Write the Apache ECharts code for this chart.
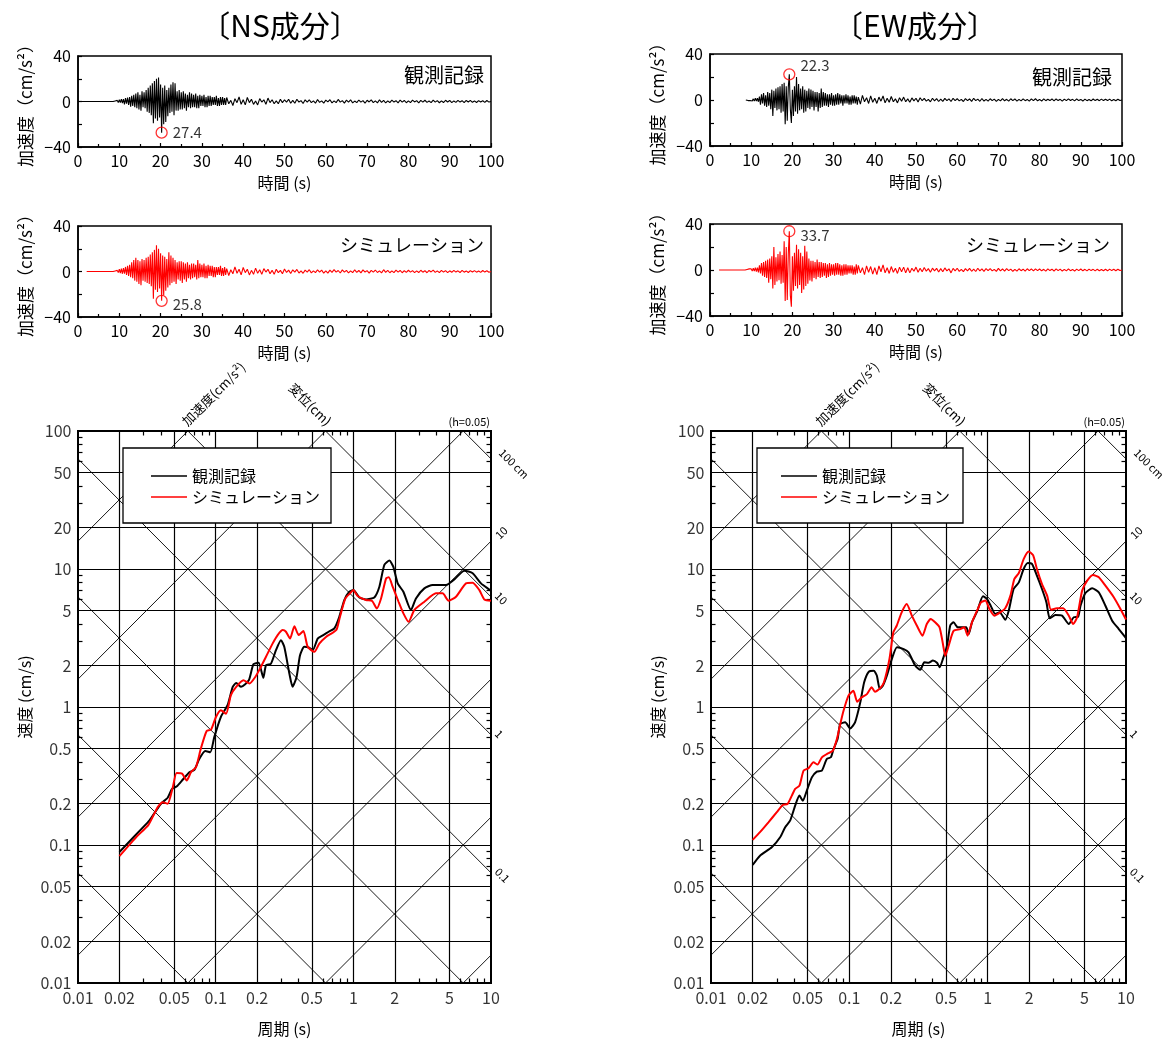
<!DOCTYPE html>
<html><head><meta charset="utf-8">
<script src="https://cdn.jsdelivr.net/npm/echarts@6/dist/echarts.min.js"></script>
<style>html,body{margin:0;padding:0;background:#fff}#c{width:1167px;height:1040px}</style>
</head><body><div id="c"></div>
<script>
const FONT = '"Noto Sans CJK JP", "Noto Sans", sans-serif';

// ---------- Time histories (acceleration, cm/s^2) ----------
const denseStart = 8, denseStep = 0.25;   // dense samples 8.0 .. 35.75 s
const tailStart = 36, tailStep = 0.5;     // tail samples 36 .. 100 s
const traceStarts = [0, 2.1, 8.7, 2.2];   // NS obs, NS sim, EW obs, EW sim

const nsObsDense = [
 0,0,0,0, 0.5,-0.5,1,-1, 1.5,-1,2,-1.5, 2,-2.5,3,-2, 3.5,-3,4,-4.5, 5,-4,6,-5,
 7,-6,8,-7, 6,-8,9,-5, 8,-6,10,-9, 12,-10,14,-12, 16,-19,18,-15, 20,-17,21,-14,
 15,-27.4,12,-20, 14,-18,10,-13, 12,-10,15,-9, 17,-12,16,-8, 9,-8,10,-7, 8,-7,9,-6,
 7,-8,6,-5, 8,-6,7,-5, 6,-5,7,-6, 5,-6,6,-4, 5,-4,6,-5, 4,-5,5,-4, 5,-4,4,-3,
 4,-3,5,-4, 3,-4,4,-3, 4,-3,3,-3];
const nsObsTail = [
 3.5,-2,1,-3.5,2.5,-1,4,-2.5, 1.5,-3,3.5,-1,2,-2.5,0.5,-3, 2.5,-0.5,1.5,-2.5,3,-1,1.5,-2,
 0.5,-2,2,-1,1.5,-0.5,2,-1.5, 1,-1.5,2,-0.5,0.8,-1.8,1.5,-0.5, 1.5,-1,0.5,-1.5,1.8,-0.8,0.6,-1.4,
 1.2,-0.4,1.6,-1.2,0.5,-1,1.8,-0.6, 0.8,-1.4,1.2,-0.5,1.5,-1.2,0.4,-1, 1.3,-0.6,0.8,-1.5,1.1,-0.4,1.4,-1,
 0.5,-1.2,1.5,-0.7,1,-1.3,0.6,-0.9, 1.2,-0.5,0.7,-1.2,1.3,-0.6,0.9,-1.1, 0.5,-1,1.2,-0.4,0.8,-1.2,1,-0.5,
 1.1,-0.8,0.4,-1,1.2,-0.6,0.8,-1.1, 0.6,-0.9,1.1,-0.4,0.9,-1,0.5,-0.8, 1,-0.5,0.7,-1,0.9,-0.4,1,-0.7,
 0.5,-0.9,0.8,-0.5,0.7,-0.8,0.9,-0.5, 0];

const nsSimDense = [
 0,0,0,0, 0.5,-0.5,1,-1, 2,-1.5,2.5,-2, 3,-2,4,-3, 5,-4,6,-5, 8,-6,10,-8,
 12,-9,10,-11, 9,-12,11,-8, 10,-9,12,-10, 13,-11,15,-13, 17,-24,19,-16, 23,-18,20,-15,
 16,-25.8,14,-21, 13,-17,11,-14, 17,-12,14,-10, 12,-9,10,-11, 8,-7,9,-8, 9,-10,8,-7,
 7,-9,8,-6, 6,-7,7,-6, 7,-5,6,-7, 10,-6,7,-5, 6,-5,7,-6, 5,-6,6,-4, 5,-4,5,-5,
 4,-5,4,-3, 4,-3,5,-4, 3,-4,4,-3];
const nsSimTail = [
 2.5,-3.5,1.5,-2,4,-1.5,2,-3, 3.5,-1,2,-3,1,-2.5,3,-1.5, 1.5,-2.5,2.5,-0.5,2,-2,1,-2.5,
 2,-1,1,-2,2.2,-0.8,1.2,-1.8, 1.5,-0.6,1.8,-1.4,0.6,-1.6,1.2,-0.5, 1.6,-1.2,0.6,-1,1.5,-0.5,1.2,-1.5,
 0.6,-1.4,1.2,-0.8,1.6,-0.5,0.9,-1.3, 1.4,-0.6,1,-1.3,0.5,-1,1.5,-0.7, 0.9,-1.2,1.4,-0.5,0.8,-1.4,1,-0.6,
 1.3,-0.9,0.5,-1.2,1.6,-0.7,1,-1.1, 0.6,-1,1.2,-0.5,0.9,-1.1,0.7,-0.8, 1.1,-0.6,0.8,-1,0.5,-0.9,1.1,-0.6,
 0.7,-1.1,0.9,-0.4,1.2,-0.8,0.6,-1, 1,-0.5,0.8,-1,0.6,-0.7,1,-0.5, 0.6,-0.9,1,-0.6,0.5,-0.9,0.8,-0.5,
 0.8,-0.6,0.5,-0.8,0.9,-0.5,0.6,-0.7, 0];

const ewObsDense = [
 0,0,0,0, 0.5,-0.5,0.5,-0.5, 1,-0.8,1,-1, 1.5,-1,1.5,-1.5, 3,-4,5,-3, 6,-5,4,-6,
 7,-5,6,-8, 9,-14,8,-7, 10,-9,11,-8, 12,-11,14,-10, 15,-21,12,-18, 11,22.3,-8,-20,
 9,-14,12,-10, 20,-12,14,-9, 10,-8,12,-11, 9,-10,8,-7, 10,-8,9,-6, 8,-9,7,-6,
 7,-10,6,-7, 10,-6,7,-5, 6,-5,5,-6, 5,-4,6,-5, 4,-5,5,-4, 6,-4,5,-3, 4,-5,4,-3,
 5,-3,4,-4, 3,-4,4,-3, 4,-3,3,-4];
const ewObsTail = [
 2.5,-3.5,4,-1.5,2,-3,3.5,-2, 1.5,-3,2.5,-1,3.5,-2.5,1.5,-2, 3,-1.5,1,-2.5,2,-1,2.5,-1.5,
 1,-2,1.8,-0.8,1.5,-1.8,2,-0.6, 1.4,-1,0.6,-1.6,1.5,-0.7,1.2,-1.3, 0.7,-1.2,1.4,-0.6,1,-1.3,1.5,-0.5,
 1.1,-0.8,0.5,-1.3,1.2,-0.6,0.9,-1.2, 1.5,-0.5,0.8,-1.1,1.3,-0.9,0.5,-1, 1.1,-0.6,0.8,-1.2,0.5,-0.8,1.2,-0.7,
 0.6,-1,1.1,-0.5,0.9,-1,0.5,-0.8, 1,-0.6,0.5,-1,0.9,-0.5,1.1,-0.7, 0.5,-0.9,1,-0.6,0.7,-0.5,0.9,-0.8,
 0.9,-0.5,0.6,-1,0.8,-0.6,1,-0.4, 0.6,-0.8,0.9,-0.5,0.5,-0.9,0.8,-0.6, 0.5,-0.7,0.9,-0.5,0.7,-0.6,0.8,-0.5,
 0.7,-0.5,0.8,-0.7,0.5,-0.6,0.7,-0.5, 0];

const ewSimDense = [
 0,0,0,0, 0.5,-0.5,1,-0.5, 1,-1,1.5,-1, 2,-1.5,2,-2, 4,-3,6,-5, 7,-6,8,-7,
 9,-11,10,-8, 12,-16,20,-13, 11,-10,14,-9, 16,-12,13,-11, 25,-27,20,-26, 14,33.7,-22,-32,
 12,-18,15,-14, 22,-16,18,-13, 15,-20,12,-17, 21,-14,16,-12, 10,-9,8,-10, 8,-7,7,-8,
 9,-6,7,-7, 7,-6,6,-5, 6,-7,5,-6, 6,-5,5,-4, 5,-5,6,-4, 6,-4,5,-5, 4,-5,5,-4,
 5,-4,4,-3, 4,-3,4,-4, 3,-4,5,-3];
const ewSimTail = [
 4,-2.5,2,-4,3.5,-2,3,-3.5, 2,-4,3.5,-1.5,4.5,-2.5,2,-3, 3,-2,1.5,-3,2.5,-1.5,2.5,-2.5,
 2,-2.5,1.5,-1,2.5,-2,1.5,-1.5, 2.2,-1,1.2,-2,1.6,-0.8,1.4,-1.8, 1.2,-1.5,1.8,-0.8,1,-2.5,1.4,-0.8,
 1.5,-1.2,0.6,-1.4,1.2,-0.7,1.4,-1.1, 0.7,-1.3,1.5,-0.8,1,-1.2,1.3,-0.6, 1.2,-0.8,0.6,-1.2,1.4,-0.7,0.9,-1,
 1.2,-0.6,0.8,-1.1,0.6,-1,1.1,-0.6, 0.7,-1,1.1,-0.6,0.9,-0.8,1,-0.5, 0.9,-0.7,0.6,-1,1,-0.5,0.7,-0.9,
 1,-0.5,0.8,-0.9,0.5,-0.8,0.9,-0.6, 0.5,-0.9,0.8,-0.5,0.9,-0.7,0.6,-0.8, 0.8,-0.5,0.6,-0.8,0.7,-0.6,0.5,-0.7,
 0.6,-0.7,0.8,-0.5,0.6,-0.6,0.7,-0.5, 0];

const peakT = [20.25, 20.25, 19.25, 19.25];
const peakV = [-27.4, -25.8, 22.3, 33.7];
const peakLabelShift = [0, 3, -9, 4];

// ---------- Response spectra (h=0.05) ----------
const nsObsT = [0.02,0.0316,0.033,0.04,0.0448,0.0482,0.052,0.0576,0.0644,0.07,0.076,0.084,0.0914,0.0977,0.109,0.122,0.133,0.141,0.153,0.174,0.188,0.205,0.222,0.232,0.252,0.274,0.298,0.315,0.343,0.362,0.387,0.41,0.44,0.474,0.507,0.551,0.605,0.662,0.728,0.791,0.86,0.935,1.0,1.106,1.236,1.42,1.546,1.68,1.83,1.95,2.10,2.31,2.62,2.85,3.28,3.77,4.71,5.42,6.40,7.36,8.46,9.84,10];
const nsObsSv = [0.089,0.1435,0.15,0.199,0.22,0.255,0.265,0.297,0.337,0.35,0.42,0.48,0.47,0.605,0.846,1.03,1.40,1.49,1.40,1.56,2.04,2.09,1.63,2.01,2.06,2.58,3.05,2.73,1.75,1.40,1.65,2.37,2.73,2.70,2.58,3.13,3.32,3.51,3.71,4.51,5.96,6.84,7.03,6.22,6.02,6.22,7.44,10.7,11.5,10.4,7.87,6.84,5.04,6.12,7.24,7.66,7.66,8.41,9.73,9.31,7.87,7.03,6.9];
const nsSimT = [0.02,0.0267,0.0325,0.0379,0.0412,0.0448,0.0488,0.052,0.057,0.0616,0.0662,0.072,0.078,0.086,0.0925,0.1005,0.109,0.119,0.129,0.141,0.159,0.176,0.194,0.213,0.232,0.259,0.282,0.307,0.324,0.347,0.373,0.401,0.434,0.466,0.521,0.566,0.633,0.708,0.757,0.80,0.875,0.946,1.0,1.075,1.236,1.37,1.48,1.59,1.73,1.81,1.93,2.13,2.31,2.52,2.77,3.28,3.98,4.45,4.92,5.57,6.58,7.36,8.23,8.95,10];
const nsSimSv = [0.083,0.115,0.14,0.188,0.204,0.199,0.262,0.332,0.329,0.293,0.337,0.367,0.498,0.67,0.684,0.846,0.946,0.895,1.22,1.40,1.56,1.48,1.65,1.95,2.31,2.88,3.32,3.61,3.51,3.13,3.85,3.32,3.56,2.73,2.51,2.88,3.22,3.45,3.65,4.51,6.12,6.66,7.03,6.37,5.96,5.86,5.18,6.12,8.55,8.7,7.44,5.79,4.77,4.14,5.04,5.79,6.66,6.66,5.89,6.30,7.87,7.96,7.03,6.02,5.89];
const ewObsT = [0.02,0.0226,0.0275,0.0316,0.0343,0.0373,0.0406,0.0436,0.0461,0.0493,0.0536,0.0582,0.0633,0.0687,0.0735,0.0769,0.0822,0.0859,0.0933,0.1016,0.110,0.120,0.128,0.138,0.150,0.158,0.166,0.175,0.187,0.203,0.221,0.247,0.268,0.300,0.326,0.348,0.374,0.402,0.430,0.450,0.475,0.508,0.537,0.567,0.607,0.652,0.70,0.729,0.770,0.838,0.925,0.99,1.057,1.135,1.22,1.34,1.42,1.54,1.68,1.82,1.95,2.09,2.27,2.47,2.66,2.81,3.09,3.45,3.86,4.19,4.5,4.69,5.09,5.69,6.36,7.10,7.94,8.87,10];
const ewObsSv = [0.0716,0.0837,0.0962,0.1137,0.134,0.150,0.193,0.228,0.209,0.248,0.309,0.34,0.346,0.42,0.432,0.496,0.586,0.753,0.774,0.70,0.774,1.08,1.51,1.80,1.83,1.69,1.35,1.43,1.69,2.23,2.71,2.63,2.49,1.99,1.86,2.11,2.09,2.17,2.09,1.94,2.23,2.78,3.91,4.11,3.78,3.78,3.78,3.38,4.11,4.91,6.34,6.06,5.36,4.72,4.85,4.29,4.99,7.16,8.0,10.0,11.05,10.9,8.95,7.16,5.73,4.39,4.64,4.59,3.99,4.47,4.5,5.42,6.70,7.24,6.78,5.42,4.22,3.67,3.15];
const ewSimT = [0.02,0.0226,0.026,0.0299,0.033,0.0357,0.0384,0.0406,0.0436,0.0467,0.0507,0.055,0.0589,0.0633,0.0687,0.076,0.0813,0.086,0.0908,0.0986,0.107,0.114,0.121,0.134,0.145,0.153,0.167,0.178,0.195,0.208,0.220,0.239,0.260,0.283,0.308,0.338,0.363,0.388,0.417,0.449,0.475,0.494,0.531,0.567,0.634,0.677,0.716,0.770,0.838,0.895,0.962,1.03,1.117,1.235,1.34,1.46,1.56,1.68,1.82,1.98,2.13,2.27,2.47,2.69,2.87,3.17,3.51,3.86,4.15,4.43,4.82,5.24,5.78,6.36,7.10,8.16,9.12,10];
const ewSimSv = [0.109,0.124,0.146,0.173,0.195,0.198,0.228,0.255,0.269,0.346,0.36,0.397,0.383,0.432,0.456,0.483,0.586,0.753,0.94,1.21,1.31,1.09,1.16,1.24,1.39,1.29,1.37,1.51,2.23,3.48,3.88,4.85,5.57,4.59,3.88,3.29,3.99,4.34,4.11,3.78,2.86,2.35,2.94,3.56,3.67,3.78,3.29,4.11,4.99,5.73,5.90,5.13,4.59,4.85,5.19,6.41,8.47,9.35,11.8,13.4,12.6,10.0,7.78,6.41,5.07,5.19,5.19,4.59,3.99,4.47,6.97,8.23,9.05,8.71,7.57,6.24,5.13,4.3];

// axis decoration values
const specXLabels = [0.01,0.02,0.05,0.1,0.2,0.5,1,2,5,10];
const specYLabels = [0.01,0.02,0.05,0.1,0.2,0.5,1,2,5,10,20,50,100];
const specXGrid = [0.02,0.05,0.1,0.2,0.5,1,2,5];
const specYGrid = [0.02,0.05,0.1,0.2,0.5,1,2,5,10,20,50];
const minorMult = [3,4,6,7,8,9];
const xDecades = [0.01,0.1,1];
const yDecades = [0.01,0.1,1,10];
const accLines = [0.01,0.1,1,10,100,1000,10000];          // cm/s^2
const dispLines = [0.0001,0.001,0.01,0.1,1,10,100];       // cm
const dispLabelVals = [100,10,1,0.1];
const dispLabelTxt = ['100 cm','10','1','0.1'];
const accLabelVals = [10];
const accLabelTxt = ['10'];

const TX = [0.01,10], SY = [0.01,100];
const TWO_PI = 2*Math.PI;

function buildTrace(start, dense, tail) {
  const pts = [[start, 0]];
  dense.forEach((v,i)=>{ const t = denseStart + i*denseStep; if (t > start) pts.push([t, v]); });
  tail.forEach((v,j)=>{ pts.push([tailStart + j*tailStep, v]); });
  return pts;
}
function zip(a,b){ return a.map((v,i)=>[v,b[i]]); }
function seg(a,b){ return [{coord:a},{coord:b}]; }

const tickK = Math.pow(10, 4.5/138);
function gridSegs(){
  const s=[];
  specXGrid.forEach(t=>s.push(seg([t,SY[0]],[t,SY[1]])));
  specYGrid.forEach(v=>s.push(seg([TX[0],v],[TX[1],v])));
  return s;
}
function diagSegs(){
  const s=[];
  accLines.forEach(A=>{
    const lo=Math.max(TX[0], SY[0]*TWO_PI/A), hi=Math.min(TX[1], SY[1]*TWO_PI/A);
    if(lo<hi) s.push(seg([lo,A*lo/TWO_PI],[hi,A*hi/TWO_PI]));
  });
  dispLines.forEach(D=>{
    const lo=Math.max(TX[0], TWO_PI*D/SY[1]), hi=Math.min(TX[1], TWO_PI*D/SY[0]);
    if(lo<hi) s.push(seg([lo,TWO_PI*D/lo],[hi,TWO_PI*D/hi]));
  });
  return s;
}
function tickSegs(){
  const s=[];
  xDecades.forEach(d=>minorMult.forEach(m=>{ const x=d*m;
    s.push(seg([x,SY[0]],[x,SY[0]*tickK])); s.push(seg([x,SY[1]],[x,SY[1]/tickK])); }));
  yDecades.forEach(d=>minorMult.forEach(m=>{ const y=d*m;
    s.push(seg([TX[0],y],[TX[0]*tickK,y])); s.push(seg([TX[1],y],[TX[1]/tickK,y])); }));
  return s;
}

const txt = {color:'#000', fontFamily:FONT};
const grids = [
  {left:78, top:56, width:413, height:91},
  {left:78, top:226, width:413, height:91},
  {left:710, top:54, width:412, height:92},
  {left:710, top:224, width:412, height:92},
  {left:78, top:431, width:413, height:552},
  {left:711, top:431, width:415, height:552}
].map(g=>Object.assign({show:true, borderColor:'#000', borderWidth:1.5, backgroundColor:'rgba(0,0,0,0)', containLabel:false, outerBoundsMode:'none'}, g));
grids[4].borderWidth = 2; grids[5].borderWidth = 2;

const xAxes = [], yAxes = [], series = [];
for (let i=0;i<4;i++){
  xAxes.push({type:'value', gridIndex:i, min:0, max:100, interval:10,
    axisLine:{onZero:false, lineStyle:{color:'#000', width:1.5}},
    axisTick:{inside:true, length:4, lineStyle:{color:'#000', width:1.2}},
    minorTick:{show:true, splitNumber:2, length:3, lineStyle:{color:'#000', width:1.2}},
    splitLine:{show:false}, minorSplitLine:{show:false},
    axisLabel:Object.assign({fontSize:16, margin:6}, txt),
    name:'時間 (s)', nameLocation:'middle', nameGap:28,
    nameTextStyle:Object.assign({fontSize:16}, txt)});
  yAxes.push({type:'value', gridIndex:i, min:-40, max:40, interval:20,
    axisLine:{onZero:false, lineStyle:{color:'#000', width:1.5}},
    axisTick:{inside:true, length:4, lineStyle:{color:'#000', width:1.2}},
    splitLine:{show:false},
    axisLabel:Object.assign({fontSize:16, margin:7,
      formatter:v=> (v%40===0 ? (v<0 ? '−'+(-v) : String(v)) : '')}, txt),
    name:'加速度（cm/s²）', nameLocation:'middle', nameGap:44,
    nameTextStyle:Object.assign({fontSize:17}, txt)});
}
for (let g=4; g<6; g++){
  xAxes.push({type:'log', logBase:10, gridIndex:g, min:TX[0], max:TX[1],
    axisLine:{onZero:false, lineStyle:{color:'#000', width:2}},
    axisTick:{show:false}, axisLabel:{show:false}, splitLine:{show:false},
    name:'周期 (s)', nameLocation:'middle', nameGap:38,
    nameTextStyle:Object.assign({fontSize:16}, txt)});
  yAxes.push({type:'log', logBase:10, gridIndex:g, min:SY[0], max:SY[1],
    axisLine:{onZero:false, lineStyle:{color:'#000', width:2}},
    axisTick:{show:false}, axisLabel:{show:false}, splitLine:{show:false},
    name:'速度 (cm/s)', nameLocation:'middle', nameGap:45,
    nameTextStyle:Object.assign({fontSize:16, padding:[0,0,0,20]}, txt)});
}

// time-history traces
const traces = [
  ['NS観測', nsObsDense, nsObsTail, '#000'],
  ['NSシミュ', nsSimDense, nsSimTail, '#ff0000'],
  ['EW観測', ewObsDense, ewObsTail, '#000'],
  ['EWシミュ', ewSimDense, ewSimTail, '#ff0000']
];
traces.forEach((tr,i)=>{
  series.push({type:'line', name:tr[0], xAxisIndex:i, yAxisIndex:i, showSymbol:false, symbol:'none',
    data:buildTrace(traceStarts[i], tr[1], tr[2]), lineStyle:{color:tr[3], width:1.1}, silent:true, z:3});
  series.push({type:'scatter', name:tr[0]+'peak', xAxisIndex:i, yAxisIndex:i, symbol:'circle', symbolSize:11, z:5,
    data:[[peakT[i], peakV[i]]], silent:true, clip:false,
    itemStyle:{color:'rgba(0,0,0,0)', borderColor:'#ff0000', borderWidth:1.3},
    label:Object.assign({show:true, position:'right', distance:5, fontSize:15, offset:[0,peakLabelShift[i]],
      formatter:p=>Math.abs(p.value[1]).toFixed(1)}, txt)});
});

// spectra
const specCurves = [
  [zip(nsObsT,nsObsSv), zip(nsSimT,nsSimSv)],
  [zip(ewObsT,ewObsSv), zip(ewSimT,ewSimSv)]
];
[4,5].forEach((g,k)=>{
  const mk = (segs,w)=>({type:'line', xAxisIndex:g, yAxisIndex:g, data:[], silent:true, z:1,
    markLine:{silent:true, symbol:['none','none'], label:{show:false}, animation:false,
      emphasis:{disabled:true}, lineStyle:{color:'#000', width:w, type:'solid'}, data:segs}});
  series.push(mk(gridSegs(),1.2));
  series.push(mk(diagSegs(),0.9));
  series.push(mk(tickSegs(),1.2));
  const lbl = [];
  specXLabels.forEach(v=>lbl.push({value:[v,SY[0]], label:{position:'bottom', distance:6, formatter:String(v)}}));
  specYLabels.forEach(v=>lbl.push({value:[TX[0],v], label:{position:'left', distance:6, formatter:String(v)}}));
  series.push({type:'scatter', xAxisIndex:g, yAxisIndex:g, data:lbl, symbolSize:1, silent:true, clip:false,
    itemStyle:{color:'rgba(0,0,0,0)'}, label:Object.assign({show:true, fontSize:16}, txt), z:2});
  series.push({type:'line', name:'観測記録', xAxisIndex:g, yAxisIndex:g, data:specCurves[k][0],
    symbol:'none', showSymbol:false, smooth:0.2, lineStyle:{color:'#000', width:2}, itemStyle:{color:'#000'}, z:6, silent:true});
  series.push({type:'line', name:'シミュレーション', xAxisIndex:g, yAxisIndex:g, data:specCurves[k][1],
    symbol:'none', showSymbol:false, smooth:0.2, lineStyle:{color:'#ff0000', width:2}, itemStyle:{color:'#ff0000'}, z:7, silent:true});
});

const legendBase = {orient:'vertical', top:448, icon:'rect', itemWidth:36, itemHeight:1.6, itemGap:3,
  borderColor:'#000', borderWidth:1.3, backgroundColor:'#fff', selectedMode:false, z:10,
  textStyle:Object.assign({fontSize:16, lineHeight:18}, txt), data:['観測記録','シミュレーション']};

const chart = echarts.init(document.getElementById('c'), null, {renderer:'canvas'});
chart.setOption({
  animation:false, backgroundColor:'#fff',
  grid:grids, xAxis:xAxes, yAxis:yAxes, series:series,
  legend:[
    Object.assign({}, legendBase, {left:123, padding:[19,11,17,28]}),
    Object.assign({}, legendBase, {left:757, padding:[19,13,17,24]})
  ]
});

// text annotations
function T(x,y,text,size,opt){
  opt = opt||{};
  return {type:'text', x:x, y:y, rotation:opt.rot||0, silent:true, z:20,
    style:{text:text, font:size+'px '+FONT, fill:'#000',
      align:opt.align||'left', textAlign:opt.align||'left',
      verticalAlign:opt.va||'middle', textVerticalAlign:opt.va||'middle'}};
}
const gfx = [
  T(280,26,'〔NS成分〕',30,{align:'center'}),
  T(915,26,'〔EW成分〕',30,{align:'center'}),
  T(484,75,'観測記録',20,{align:'right'}),
  T(484,245,'シミュレーション',18,{align:'right'}),
  T(1112,77,'観測記録',20,{align:'right'}),
  T(1110,245,'シミュレーション',18,{align:'right'})
];
[4,5].forEach(g=>{
  const p = c=>chart.convertToPixel({gridIndex:g}, c);
  const tl = p([TX[0],SY[1]]), br = p([TX[1],SY[0]]);
  const a = p([TWO_PI*SY[1]/10000, SY[1]]);
  gfx.push(T(a[0]+1, a[1]-3, '加速度(cm/s²)', 13, {rot:Math.PI/4, va:'bottom'}));
  const d = p([TWO_PI*10/SY[1], SY[1]]);
  gfx.push(T(d[0]-1, d[1]-3, '変位(cm)', 13, {rot:-Math.PI/4, va:'bottom', align:'right'}));
  gfx.push(T(br[0]-1, tl[1]-4, '(h=0.05)', 11, {align:'right', va:'bottom'}));
  dispLabelVals.forEach((D,i)=>{
    const q = p([TX[1], TWO_PI*D/TX[1]]);
    const big = i===0;
    gfx.push(T(q[0]+(big?10:6), q[1]-(big?8:3), dispLabelTxt[i], 11, {rot:-Math.PI/4}));
  });
  accLabelVals.forEach((A,i)=>{
    const q = p([TX[1], A*TX[1]/TWO_PI]);
    gfx.push(T(q[0]+6, q[1]-4, accLabelTxt[i], 11, {rot:Math.PI/4}));
  });
});
chart.setOption({graphic:gfx});
</script></body></html>
